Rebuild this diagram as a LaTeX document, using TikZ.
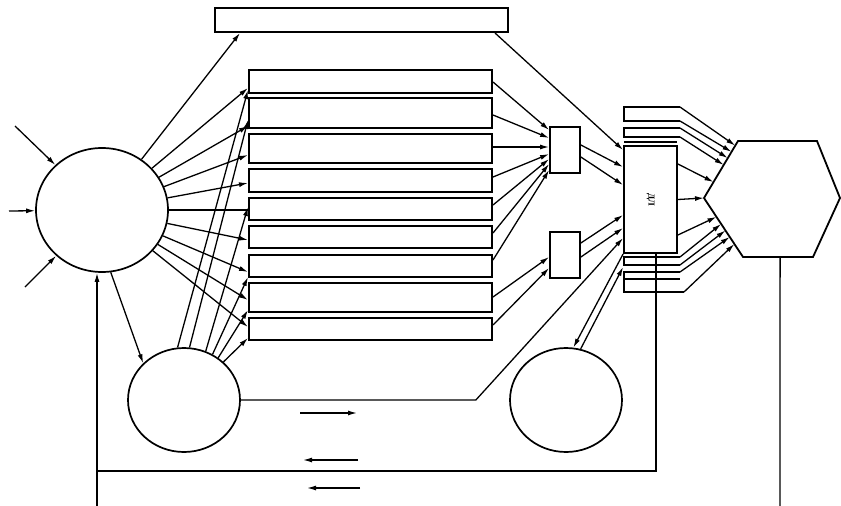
\documentclass[tikz,border=0pt]{standalone}
\usepackage{fontspec}
\newfontfamily\cyrfont{Liberation Serif}
\usetikzlibrary{arrows.meta, shapes.geometric, positioning, calc}

\tikzset{
  blk/.style={draw, line width=2pt, inner sep=0pt, minimum width=243pt},
  smallbox/.style={draw, line width=1.8pt, inner sep=0pt, minimum width=30pt, minimum height=46pt},
  ring/.style={draw, ellipse, line width=1.7pt, inner sep=0pt},
  arr/.style={-{Latex[length=9pt,width=5pt]}}
}

\begin{document}
\begin{tikzpicture}[x=1pt, y=-1pt, line width=1.3pt]
\useasboundingbox (0,0) rectangle (841,506);

% Top bar
\node[blk, minimum width=293pt, minimum height=24pt] (top) at (361.5,20) {};

% Stack of bars
\node[blk, minimum height=23pt] (r1) at (370.5,81.5) {};
\node[blk, minimum height=30pt] (r2) at (370.5,113) {};
\node[blk, minimum height=29pt] (r3) at (370.5,148.5) {};
\node[blk, minimum height=23pt] (r4) at (370.5,180.5) {};
\node[blk, minimum height=22pt] (r5) at (370.5,209) {};
\node[blk, minimum height=22pt] (r6) at (370.5,237) {};
\node[blk, minimum height=22pt] (r7) at (370.5,266) {};
\node[blk, minimum height=29pt] (r8) at (370.5,297.5) {};
\node[blk, minimum height=22pt] (r9) at (370.5,329) {};

% Circles
\node[ring, minimum width=132pt, minimum height=124pt] (bc) at (102,210) {};
\node[ring, minimum width=112pt, minimum height=104pt] (lc) at (184,400) {};
\node[ring, minimum width=112pt, minimum height=104pt] (rc) at (566,400) {};

% Small boxes and DL block
\node[smallbox] (ba) at (565,150) {};
\node[smallbox] (bb) at (565,255) {};
\node[draw, line width=1.8pt, inner sep=0pt, minimum width=53pt, minimum height=107pt] (dl) at (650.5,199.5)
  {\rotatebox{-90}{\cyrfont\bfseries\small ДЛ}};

% Hexagon
\coordinate (hl) at (704,198);
\coordinate (htl) at (738,141);
\coordinate (htr) at (817,141);
\coordinate (hr) at (840,198);
\coordinate (hbr) at (813,257);
\coordinate (hbl) at (743,257);
\draw[line width=1.8pt] (hl) -- (htl) -- (htr) -- (hr) -- (hbr) -- (hbl) -- cycle;
\coordinate (u1) at ($(hl)!0.92!(htl)$);
\coordinate (u2) at ($(hl)!0.81!(htl)$);
\coordinate (u3) at ($(hl)!0.70!(htl)$);
\coordinate (u4) at ($(hl)!0.58!(htl)$);
\coordinate (u5) at ($(hl)!0.28!(htl)$);
\coordinate (d0) at ($(hl)!0.32!(hbl)$);
\coordinate (d1) at ($(hl)!0.44!(hbl)$);
\coordinate (d2) at ($(hl)!0.55!(hbl)$);
\coordinate (d3) at ($(hl)!0.66!(hbl)$);
\coordinate (d4) at ($(hl)!0.78!(hbl)$);

% Inputs to the big circle
\coordinate (in1) at (15,126);
\coordinate (in2) at (9,211);
\coordinate (in3) at (25,287);
\draw[arr] (in1) -- (bc);
\draw[arr] (in2) -- (bc);
\draw[arr] (in3) -- (bc);

% Big circle fan
\draw[arr] (bc) -- (top.south -| 240,0);
\draw[arr] (bc) -- (r1.west |- 0,88);
\draw[arr] (bc) -- (r2.west |- 0,126);
\draw[arr] (bc) -- (r3.west |- 0,155);
\draw[arr] (bc) -- (r4.west |- 0,183);
\draw (bc) -- (r5.west |- 0,210);
\draw[arr] (bc) -- (r6.west |- 0,240);
\draw[arr] (bc) -- (r7.west |- 0,272);
\draw[arr] (bc) -- (r8.west |- 0,300);
\draw[arr] (bc) -- (r9.west |- 0,327);
\draw[arr] (bc.-82) -- (lc.138);

% Lower circle fan
\draw[arr] (lc.97) -- (r1.west |- 0,90);
\draw[arr] (lc.84) -- (r2.west |- 0,120);
\draw[arr] (lc.66) -- (r5.west |- 0,207);
\draw[arr] (lc.58) -- (r7.west |- 0,277);
\draw[arr] (lc.51) -- (r8.west |- 0,310);
\draw[arr] (lc.44) -- (r9.west |- 0,338);

% Bars to small boxes
\draw[arr] (r1.east |- 0,82) -- (ba.west |- 0,130);
\draw[arr] (r2.east |- 0,115) -- (ba.west |- 0,138);
\draw[arr] (r3.east |- 0,147) -- (ba.west |- 0,147);
\draw[arr] (r4.east |- 0,177) -- (ba.west |- 0,154);
\draw[arr] (r5.east |- 0,205) -- (ba.west |- 0,159);
\draw[arr] (r6.east |- 0,233) -- (ba.west |- 0,164);
\draw[arr] (r7.east |- 0,260) -- (ba.west |- 0,170);
\draw[arr] (r8.east |- 0,297) -- (bb.west |- 0,257);
\draw[arr] (r9.east |- 0,325) -- (bb.west |- 0,268);

% Into the DL block
\draw[arr] (top.south -| 495,0) -- (dl.west |- 0,150);
\draw[arr] (ba.east |- 0,145) -- (dl.west |- 0,167);
\draw[arr] (ba.east |- 0,157) -- (dl.west |- 0,185);
\draw[arr] (bb.east |- 0,243) -- (dl.west |- 0,215);
\draw[arr] (bb.east |- 0,257) -- (dl.west |- 0,228);
\draw[arr] (lc.east) -- ++(235,0) -- (dl.west |- 0,238);
\draw[arr] (dl.west |- 0,254) -- (rc.82);
\draw[arr] (rc.74) -- (dl.west |- 0,267);

% Upper channels
\draw (680,107) -- (624,107) -- (624,121) -- (680,121);
\draw (680,128) -- (624,128) -- (624,137) -- (680,137);
\draw (624,142) -- (677,142);
\draw[arr] (680,107) -- (u1);
\draw[arr] (680,121) -- (u2);
\draw[arr] (680,128) -- (u3);
\draw[arr] (680,137) -- (u4);

% Lower channels
\draw (680,257) -- (624,257) -- (624,265) -- (680,265);
\draw (680,272) -- (624,272) -- (624,292) -- (684,292);
\draw (624,279) -- (680,279);
\draw[arr] (680,257) -- (d1);
\draw[arr] (680,265) -- (d2);
\draw[arr] (680,272) -- (d3);
\draw[arr] (684,292) -- (d4);

% DL block to hexagon
\draw[arr] (dl.east |- 0,164) -- (u5);
\draw[arr] (dl.east) -- (hl);
\draw[arr] (dl.east |- 0,235) -- (d0);

% Feedback lines
\coordinate (fb) at (97,471);
\draw (dl.south -| 656,0) -- (656,471) -- (fb);
\draw[arr] (97,506) -- (bc.south -| 97,0);
\draw ($(hbl)!0.53!(hbr)$) -- (780,506);

% Direction arrows
\coordinate (a1) at (300,413);
\coordinate (a2) at (358,460);
\coordinate (a3) at (360,488);
\draw[arr] (a1) -- ++(57,0);
\draw[arr] (a2) -- ++(-55,0);
\draw[arr] (a3) -- ++(-53,0);
\end{tikzpicture}
\end{document}
